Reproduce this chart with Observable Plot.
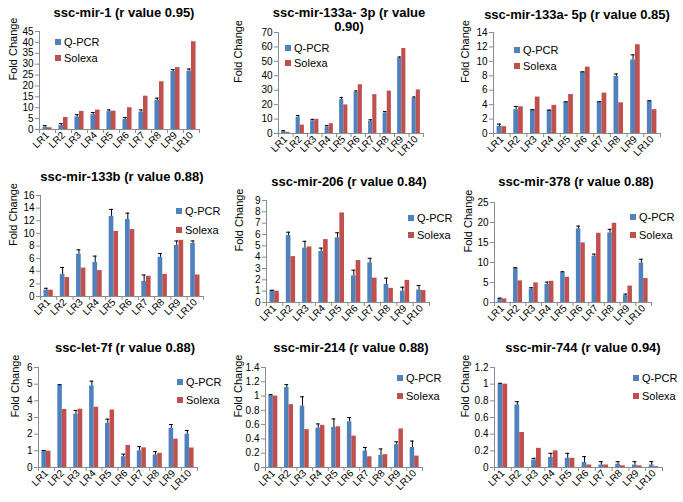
<!DOCTYPE html>
<html><head><meta charset="utf-8">
<script src="https://cdn.jsdelivr.net/npm/d3@7"></script>
<script src="https://cdn.jsdelivr.net/npm/@observablehq/plot@0.6"></script>
<style>
body{margin:0;background:#fff;}
#root{position:relative;width:683px;height:502px;overflow:hidden;font-family:"Liberation Sans",Arial,sans-serif;background:#fff;}
.title{position:absolute;font-weight:bold;font-size:13px;text-align:center;white-space:nowrap;transform:translate(-50%,-50%);line-height:14px;color:#000;}
.leg{position:absolute;font-size:11px;white-space:nowrap;display:flex;align-items:center;transform:translateY(-50%);color:#000;line-height:12px;}
.sw{display:inline-block;width:6px;height:6px;margin-right:3px;}
#root svg{position:absolute;}
</style></head><body><div id="root"></div>
<script>
const categories = ["LR1","LR2","LR3","LR4","LR5","LR6","LR7","LR8","LR9","LR10"];
const seriesNames = ["Q-PCR","Solexa"];
const seriesColors = ["#4F81BD","#C0504D"];

const titles = [
  ["ssc-mir-1 (r value 0.95)"],
  ["ssc-mir-133a- 3p (r value","0.90)"],
  ["ssc-mir-133a- 5p (r value 0.85)"],
  ["ssc-mir-133b (r value 0.88)"],
  ["ssc-mir-206 (r value 0.84)"],
  ["ssc-mir-378 (r value 0.88)"],
  ["ssc-let-7f (r value 0.88)"],
  ["ssc-mir-214 (r value 0.88)"],
  ["ssc-mir-744 (r value 0.94)"]
];

const mir1_qpcr   = [1.0, 1.8, 5.8, 6.8, 8.2, 4.6, 8.0, 13.3, 26.6, 26.8];
const mir1_solexa = [0.8, 5.5, 8.3, 8.9, 8.4, 10.0, 15.3, 21.9, 28.4, 40.3];
const mir1_err    = [0.8, 0.9, 1.0, 1.0, 0.8, 0.9, 1.0, 1.1, 0.9, 1.0];
const mir1_ticks  = [0, 5, 10, 15, 20, 25, 30, 35, 40, 45];

const mir133a3p_qpcr   = [1.5, 11.3, 8.8, 4.5, 23.5, 28.5, 8.5, 14.2, 52.0, 24.3];
const mir133a3p_solexa = [0.8, 5.8, 9.8, 6.8, 19.8, 33.8, 26.9, 29.4, 58.9, 30.2];
const mir133a3p_err    = [0.5, 1.2, 1.0, 1.0, 1.5, 1.0, 1.0, 1.0, 1.0, 1.0];
const mir133a3p_ticks  = [0, 10, 20, 30, 40, 50, 60, 70];

const mir133a5p_qpcr   = [1.0, 3.3, 3.25, 3.2, 4.35, 8.5, 4.35, 7.9, 10.2, 4.45];
const mir133a5p_solexa = [0.95, 3.7, 5.05, 3.9, 5.4, 9.2, 5.6, 4.25, 12.3, 3.3];
const mir133a5p_err    = [0.3, 0.45, 0.05, 0.05, 0.05, 0.05, 0.05, 0.35, 0.7, 0.1];
const mir133a5p_ticks  = [0, 2, 4, 6, 8, 10, 12, 14];

const mir133b_qpcr   = [1.0, 3.5, 6.7, 5.4, 12.7, 12.2, 2.4, 6.2, 8.1, 8.4];
const mir133b_solexa = [1.0, 3.0, 4.5, 4.1, 10.3, 10.6, 3.2, 3.5, 8.9, 3.4];
const mir133b_err    = [0.3, 1.1, 0.7, 1.0, 1.1, 1.0, 1.0, 0.6, 0.7, 0.4];
const mir133b_ticks  = [0, 2, 4, 6, 8, 10, 12, 14, 16];

const mir206_qpcr   = [1.05, 5.9, 4.8, 4.5, 5.7, 2.35, 3.5, 1.6, 1.0, 1.1];
const mir206_solexa = [1.0, 4.05, 4.9, 5.55, 7.9, 3.7, 2.15, 1.25, 1.95, 1.05];
const mir206_err    = [0.03, 0.3, 0.6, 0.3, 0.45, 0.5, 0.4, 0.55, 0.35, 0.4];
const mir206_ticks  = [0, 1, 2, 3, 4, 5, 6, 7, 8, 9];

const mir378_qpcr   = [1.0, 8.6, 3.4, 4.5, 7.5, 18.4, 11.6, 17.4, 1.7, 9.9];
const mir378_solexa = [0.9, 5.4, 4.9, 5.3, 6.3, 14.9, 17.3, 19.8, 4.1, 6.0];
const mir378_err    = [0.1, 0.1, 0.3, 0.6, 0.2, 0.7, 0.5, 0.9, 0.4, 0.9];
const mir378_ticks  = [0, 5, 10, 15, 20, 25];

const let7f_qpcr   = [1.0, 4.95, 3.2, 4.9, 2.65, 0.65, 1.0, 0.75, 2.35, 2.0];
const let7f_solexa = [0.98, 3.48, 3.5, 3.62, 3.45, 1.32, 1.18, 0.85, 1.7, 1.17];
const let7f_err    = [0.02, 0.02, 0.22, 0.28, 0.25, 0.15, 0.25, 0.2, 0.23, 0.22];
const let7f_ticks  = [0, 1, 2, 3, 4, 5, 6];

const mir214_qpcr   = [1.01, 1.12, 0.86, 0.55, 0.56, 0.64, 0.23, 0.17, 0.32, 0.28];
const mir214_solexa = [1.0, 0.88, 0.53, 0.59, 0.57, 0.44, 0.15, 0.18, 0.54, 0.16];
const mir214_err    = [0.01, 0.04, 0.13, 0.06, 0.12, 0.06, 0.05, 0.09, 0.04, 0.09];
const mir214_ticks  = [0, 0.2, 0.4, 0.6, 0.8, 1, 1.2, 1.4];

const mir744_qpcr   = [1.0, 0.75, 0.09, 0.12, 0.11, 0.06, 0.03, 0.04, 0.03, 0.03];
const mir744_solexa = [1.0, 0.42, 0.23, 0.2, 0.11, 0.03, 0.03, 0.02, 0.02, 0.01];
const mir744_err    = [0.01, 0.04, 0.02, 0.05, 0.06, 0.07, 0.04, 0.03, 0.04, 0.04];
const mir744_ticks  = [0, 0.2, 0.4, 0.6, 0.8, 1, 1.2];

const panels = [
  {q: mir1_qpcr, s: mir1_solexa, e: mir1_err, ticks: mir1_ticks},
  {q: mir133a3p_qpcr, s: mir133a3p_solexa, e: mir133a3p_err, ticks: mir133a3p_ticks},
  {q: mir133a5p_qpcr, s: mir133a5p_solexa, e: mir133a5p_err, ticks: mir133a5p_ticks},
  {q: mir133b_qpcr, s: mir133b_solexa, e: mir133b_err, ticks: mir133b_ticks},
  {q: mir206_qpcr, s: mir206_solexa, e: mir206_err, ticks: mir206_ticks},
  {q: mir378_qpcr, s: mir378_solexa, e: mir378_err, ticks: mir378_ticks},
  {q: let7f_qpcr, s: let7f_solexa, e: let7f_err, ticks: let7f_ticks},
  {q: mir214_qpcr, s: mir214_solexa, e: mir214_err, ticks: mir214_ticks},
  {q: mir744_qpcr, s: mir744_solexa, e: mir744_err, ticks: mir744_ticks}
];

// layout (pixel placement of each panel)
const layout = [
  {x0: 39,  x1: 199, yTop: 31,  yBot: 129, lab: 26, tx: 124, ty: 12.5, lx: 55,  ly: [41.5, 57.5]},
  {x0: 278, x1: 423, yTop: 32,  yBot: 133, lab: 40, tx: 349, ty: 19.5, lx: 285, ly: [47.5, 62.5]},
  {x0: 493, x1: 660, yTop: 32,  yBot: 133, lab: 28, tx: 577, ty: 15,   lx: 514, ly: [49.5, 65.5]},
  {x0: 40,  x1: 203, yTop: 195, yBot: 296, lab: 27, tx: 122, ty: 177,  lx: 176, ly: [210.5, 229.5]},
  {x0: 266, x1: 429, yTop: 200, yBot: 302, lab: 27, tx: 349, ty: 182,  lx: 408, ly: [217.5, 234.5]},
  {x0: 494, x1: 651, yTop: 202, yBot: 302, lab: 26, tx: 576, ty: 182,  lx: 630, ly: [216.5, 234.5]},
  {x0: 38,  x1: 197, yTop: 367, yBot: 467, lab: 23, tx: 125, ty: 348,  lx: 177, ly: [381.5, 399.5]},
  {x0: 265, x1: 422, yTop: 367, yBot: 467, lab: 27, tx: 351, ty: 348,  lx: 397, ly: [377.5, 395.5]},
  {x0: 494, x1: 662, yTop: 367, yBot: 467, lab: 29, tx: 583, ty: 348,  lx: 633, ly: [377.5, 395.5]}
];

const root = document.getElementById("root");
const axisGray = "#8c8c8c";
const fmt = d3.format("~g");

panels.forEach((p, k) => {
  const L = layout[k];
  const mL = 50, mR = 6, mT = 6, mB = 34;
  const W = (L.x1 - L.x0) + mL + mR;
  const H = (L.yBot - L.yTop) + mT + mB;
  const rows = [];
  categories.forEach((c, i) => {
    rows.push({i, cat: c, s: seriesNames[0], v: p.q[i], e: p.e[i]});
    rows.push({i, cat: c, s: seriesNames[1], v: p.s[i]});
  });
  const q = rows.filter(d => d.s === seriesNames[0]);
  const pad = 0.215, half = 0.285;
  const off = d => d.s === seriesNames[1] ? half : 0;
  const cx = d => d.i + pad + half / 2;
  const chart = Plot.plot({
    width: W, height: H,
    marginLeft: mL, marginRight: mR, marginTop: mT, marginBottom: mB,
    style: {fontFamily: '"Liberation Sans", Arial, sans-serif', fontSize: "10px", color: "#000", background: "none", overflow: "visible"},
    x: {type: "linear", domain: [0, 10], axis: null},
    y: {domain: [0, d3.max(p.ticks)], axis: null},
    color: {domain: seriesNames, range: seriesColors},
    marks: [
      Plot.rectY(rows, {x1: d => d.i + pad + off(d), x2: d => d.i + pad + half + off(d), y1: 0, y2: "v", fill: "s"}),
      Plot.ruleX(q, {x: cx, y1: "v", y2: d => d.v + d.e, stroke: "#000", strokeWidth: 1}),
      Plot.ruleY(q, {y: d => d.v + d.e, x1: d => cx(d) - 0.12, x2: d => cx(d) + 0.12, stroke: "#000", strokeWidth: 1}),
      Plot.ruleX([0], {stroke: axisGray}),
      Plot.ruleY([0], {stroke: axisGray}),
      Plot.axisY({ticks: p.ticks, tickSize: 4, tickPadding: 2, tickFormat: fmt, stroke: axisGray, label: null}),
      Plot.axisX({ticks: d3.range(11), tickSize: 4, tickFormat: () => "", stroke: axisGray, label: null}),
      Plot.axisX({ticks: categories.map((c, i) => i + 0.5), tickSize: 0, tickRotate: -45, tickPadding: 4,
                  tickFormat: d => categories[Math.floor(d)], label: null}),
      Plot.text(["Fold Change"], {frameAnchor: "left", rotate: -90, dx: -L.lab, fontSize: 11})
    ]
  });
  chart.style.left = (L.x0 - mL) + "px";
  chart.style.top = (L.yTop - mT) + "px";
  root.appendChild(chart);

  const t = document.createElement("div");
  t.className = "title";
  t.style.left = L.tx + "px";
  t.style.top = L.ty + "px";
  t.innerHTML = titles[k].join("<br>");
  root.appendChild(t);

  seriesNames.forEach((name, j) => {
    const g = document.createElement("div");
    g.className = "leg";
    g.style.left = L.lx + "px";
    g.style.top = L.ly[j] + "px";
    const sw = document.createElement("span");
    sw.className = "sw";
    sw.style.background = seriesColors[j];
    g.appendChild(sw);
    g.appendChild(document.createTextNode(name));
    root.appendChild(g);
  });
});
</script>
</body></html>
